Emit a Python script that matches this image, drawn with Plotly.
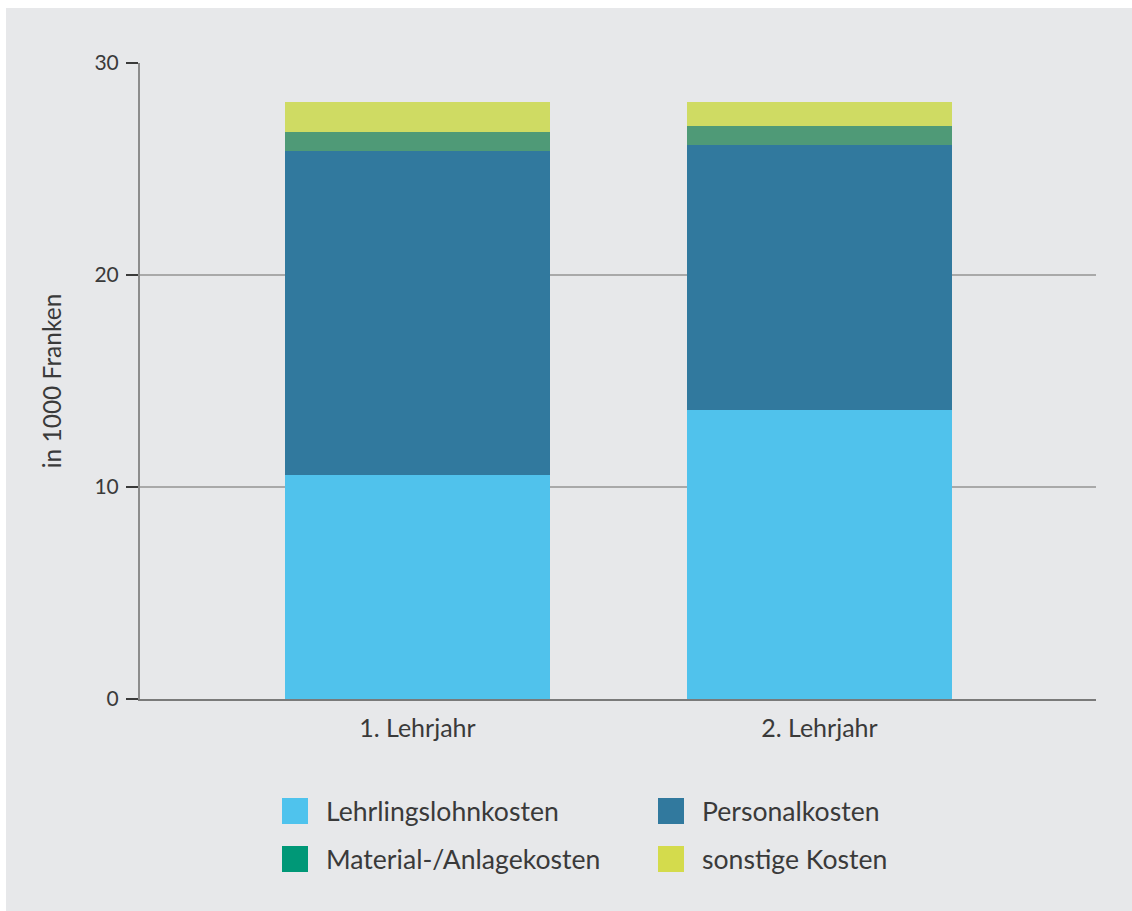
import plotly.graph_objects as go

# Kosten je Lehrjahr, in 1000 Franken
years = ["1. Lehrjahr", "2. Lehrjahr"]
series_names = ["Lehrlingslohnkosten", "Personalkosten", "Material-/Anlagekosten", "sonstige Kosten"]
lehrlingslohn = [10.57, 13.63]
personal = [15.28, 12.5]
material = [0.88, 0.9]
sonstige = [1.43, 1.13]
y_ticks = [0, 10, 20, 30]

series_values = [lehrlingslohn, personal, material, sonstige]
bar_colors = ["#50c2ec", "#31799e", "#4f9a77", "#cfdb63"]
legend_colors = ["#4fc3ed", "#31799e", "#009877", "#d4db4c"]

W, H = 1132, 911
L, R, T, B = 140, 36, 63, 212
FONT = "Lato"
TXT = "#3a3a3a"

fig = go.Figure()
for name, vals, col in zip(series_names, series_values, bar_colors):
    fig.add_trace(go.Bar(x=years, y=vals, name=name, marker=dict(color=col, line=dict(width=0)),
                         width=0.66, showlegend=False))

pw, ph = W - L - R, H - T - B


def px(xpix):
    return (xpix - L) / pw


def py(ypix):
    return (H - B - ypix) / ph


shapes = [
    # grey panel behind the whole chart
    dict(type="rect", xref="paper", yref="paper", layer="below",
         x0=px(6), x1=px(W + 2), y0=py(H + 2), y1=py(8),
         fillcolor="#e7e8ea", line=dict(width=0)),
]
annotations = []

# legend: two columns, two rows
col_x = [282, 658]
row_y = [811, 859]
sq = 26
for i, (name, col) in enumerate(zip(series_names, legend_colors)):
    cx = col_x[i % 2]
    cy = row_y[i // 2]
    shapes.append(dict(type="rect", xref="paper", yref="paper",
                       x0=px(cx), x1=px(cx + sq), y0=py(cy + sq / 2), y1=py(cy - sq / 2),
                       fillcolor=col, line=dict(width=0)))
    annotations.append(dict(xref="paper", yref="paper", x=px(cx + 42), y=py(cy),
                            text=name, showarrow=False, xanchor="left", yanchor="middle",
                            font=dict(family=FONT, size=26.6, color=TXT)))

fig.update_layout(
    width=W, height=H,
    margin=dict(l=L, r=R, t=T, b=B, pad=0),
    barmode="stack",
    paper_bgcolor="white",
    plot_bgcolor="rgba(0,0,0,0)",
    showlegend=False,
    font=dict(family=FONT, color=TXT),
    shapes=shapes,
    annotations=annotations,
    xaxis=dict(
        type="category", range=[-0.69, 1.688],
        showline=True, linecolor="#7a7a7a", linewidth=2,
        ticks="outside", ticklen=6, tickcolor="rgba(0,0,0,0)",
        tickfont=dict(family=FONT, size=25, color=TXT),
        showgrid=False, zeroline=False,
    ),
    yaxis=dict(
        range=[0, 30], tickvals=y_ticks,
        showline=True, linecolor="#8c8c8c", linewidth=2,
        ticks="outside", ticklen=12, tickcolor="#3a3a3a", tickwidth=1.5,
        ticklabelstandoff=3,
        tickfont=dict(family=FONT, size=21, color=TXT),
        showgrid=True, gridcolor="#a9a9a9", gridwidth=1.5,
        zeroline=False,
        title=dict(text="in 1000 Franken", font=dict(family=FONT, size=24.5, color=TXT), standoff=26),
    ),
)

fig.write_html("out.html")
